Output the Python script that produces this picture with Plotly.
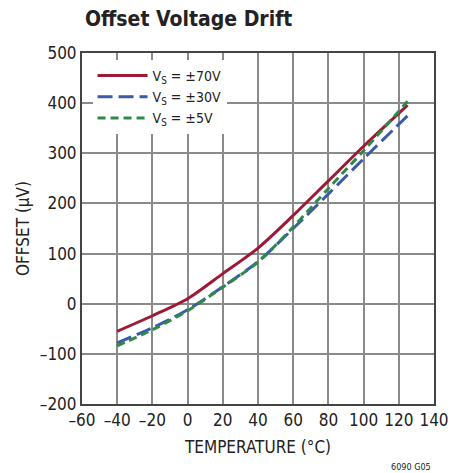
import plotly.graph_objects as go

temp = [-40, -20, 0, 20, 40, 60, 80, 100, 125]
vs70 = [-55, -24, 10, 60, 111, 176, 245, 314, 396]
vs30 = [-78, -48, -12, 34, 84, 150, 219, 289, 375]
vs5 = [-84, -52, -14, 33, 83, 153, 230, 305, 404]

x_ticks = [-60, -40, -20, 0, 20, 40, 60, 80, 100, 120, 140]
y_ticks = [-200, -100, 0, 100, 200, 300, 400, 500]

FONT = "DejaVu Sans Condensed, Liberation Sans Narrow, sans-serif"

fig = go.Figure()
fig.add_trace(go.Scatter(x=temp, y=vs70, mode="lines", name="V<sub>S</sub> = ±70V",
                         line=dict(color="#9c1a35", width=3, shape="spline", smoothing=0.8)))
fig.add_trace(go.Scatter(x=temp, y=vs30, mode="lines", name="V<sub>S</sub> = ±30V",
                         line=dict(color="#3d5aa8", width=3, dash="15px,6px", shape="spline", smoothing=0.8)))
fig.add_trace(go.Scatter(x=temp, y=vs5, mode="lines", name="V<sub>S</sub> = ±5V",
                         line=dict(color="#2e8b47", width=3, dash="8px,5px", shape="spline", smoothing=0.8)))

fig.update_layout(
    width=451, height=473,
    margin=dict(l=82, r=17, t=53, b=69, autoexpand=False),
    paper_bgcolor="white", plot_bgcolor="white",
    font=dict(family=FONT, size=16, color="#222"),
    title=dict(text="<b>Offset Voltage Drift</b>", x=85 / 451, xref="container", xanchor="left",
               y=1 - 19 / 473, yref="container", yanchor="middle",
               font=dict(family=FONT, size=21, color="#222")),
    showlegend=True,
    legend=dict(x=0.03, y=0.98, xanchor="left", yanchor="top", bgcolor="white",
                borderwidth=0, font=dict(family=FONT, size=14, color="#222"),
                tracegroupgap=0, itemwidth=50),
    xaxis=dict(range=[-60, 140], tickvals=x_ticks,
               ticktext=[("–" + str(-v)) if v < 0 else str(v) for v in x_ticks],
               showgrid=True, gridcolor="#8a8a8a", gridwidth=1.5,
               showline=True, linecolor="#444", linewidth=2, mirror=True,
               ticks="", zeroline=False, automargin=False,
               title=dict(text="TEMPERATURE (°C)", font=dict(family=FONT, size=17), standoff=12),
               tickfont=dict(family=FONT, size=17)),
    yaxis=dict(range=[-200, 500], tickvals=y_ticks,
               ticktext=[("–" + str(-v)) if v < 0 else str(v) for v in y_ticks],
               showgrid=True, gridcolor="#8a8a8a", gridwidth=1.5,
               showline=True, linecolor="#444", linewidth=2, mirror=True,
               ticks="", zeroline=False, automargin=False,
               title=dict(text="OFFSET (µV)", font=dict(family=FONT, size=17), standoff=6),
               tickfont=dict(family=FONT, size=17)),
)

fig.add_annotation(text="6090 G05", xref="paper", yref="paper", x=0.997, y=-0.18,
                   xanchor="right", yanchor="middle", showarrow=False,
                   font=dict(family=FONT, size=9, color="#222"))

fig.write_html("out.html", config={"displayModeBar": False},
               post_script="document.body.style.margin='0';")
